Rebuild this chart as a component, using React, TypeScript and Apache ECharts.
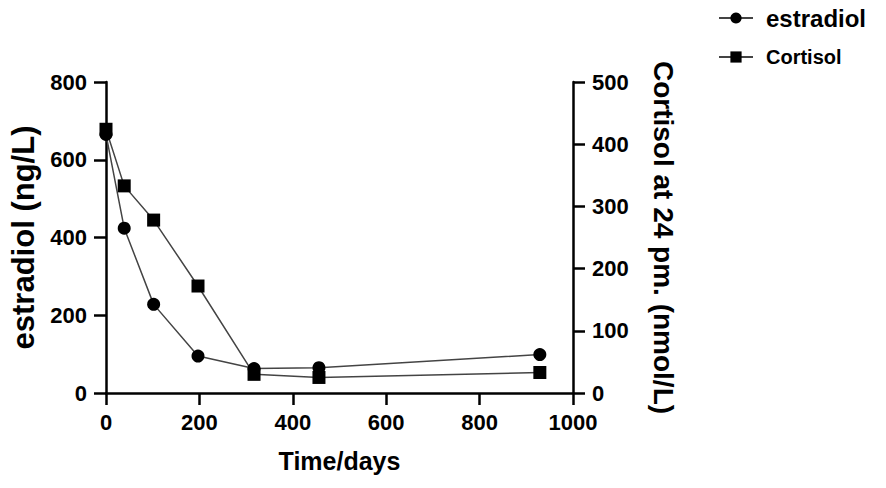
import React, { useEffect, useRef } from "react";
import * as echarts from "echarts";

const days = [0, 39, 102, 197, 317, 456, 929];
const estradiol = [665, 424, 228, 95, 63, 65, 99];
const cortisol = [424, 333, 278, 172, 30, 25, 33];
const seriesNames = ["estradiol", "Cortisol"];

const FONT = '"Liberation Sans", Arial, Helvetica, sans-serif';

export default function App() {
  const ref = useRef<HTMLDivElement>(null);
  useEffect(() => {
    if (!ref.current) return;
    const chart = echarts.init(ref.current, undefined, { renderer: "svg" });
    const axisLine = { show: true, lineStyle: { color: "#000", width: 2.5 } };
    const axisTick = { show: true, inside: false, length: 12, lineStyle: { color: "#000", width: 2.5 } };
    const labelStyle = {
      color: "#000",
      fontFamily: FONT,
      fontWeight: "bold" as const,
      fontSize: 22,
      formatter: (v: number) => String(v),
    };
    chart.setOption({
      animation: false,
      backgroundColor: "#fff",
      grid: { left: 106, right: 313, top: 82, bottom: 95, containLabel: false },
      legend: [
        {
          data: [seriesNames[0]],
          left: 713,
          top: 1,
          itemWidth: 34,
          itemHeight: 14,
          textStyle: { color: "#000", fontFamily: FONT, fontWeight: "bold", fontSize: 24, padding: [0, 0, 0, 8] },
        },
        {
          data: [seriesNames[1]],
          left: 713,
          top: 42,
          itemWidth: 34,
          itemHeight: 14,
          textStyle: { color: "#000", fontFamily: FONT, fontWeight: "bold", fontSize: 20, padding: [0, 0, 0, 8] },
        },
      ],
      xAxis: {
        type: "value",
        min: 0,
        max: 1000,
        interval: 200,
        name: "Time/days",
        nameLocation: "middle",
        nameGap: 55,
        nameTextStyle: { color: "#000", fontFamily: FONT, fontWeight: "bold", fontSize: 25 },
        axisLine,
        axisTick,
        splitLine: { show: false },
        axisLabel: { ...labelStyle, margin: 18 },
      },
      yAxis: [
        {
          type: "value",
          min: 0,
          max: 800,
          interval: 200,
          position: "left",
          name: "estradiol (ng/L)",
          nameLocation: "middle",
          nameGap: 66,
          nameRotate: 90,
          nameTextStyle: { color: "#000", fontFamily: FONT, fontWeight: "bold", fontSize: 31 },
          axisLine,
          axisTick,
          splitLine: { show: false },
          axisLabel: { ...labelStyle, margin: 19 },
        },
        {
          type: "value",
          min: 0,
          max: 500,
          interval: 100,
          position: "right",
          name: "Cortisol at 24 pm. (nmol/L)",
          nameLocation: "middle",
          nameGap: 76,
          nameRotate: -90,
          nameTextStyle: { color: "#000", fontFamily: FONT, fontWeight: "bold", fontSize: 28 },
          axisLine,
          axisTick,
          splitLine: { show: false },
          axisLabel: { ...labelStyle, margin: 19 },
        },
      ],
      series: [
        {
          name: seriesNames[1],
          type: "line",
          yAxisIndex: 1,
          data: days.map((d, i) => [d, cortisol[i]]),
          symbol: "rect",
          symbolSize: 13,
          lineStyle: { color: "#444", width: 1.5 },
          itemStyle: { color: "#000" },
        },
        {
          name: seriesNames[0],
          type: "line",
          yAxisIndex: 0,
          data: days.map((d, i) => [d, estradiol[i]]),
          symbol: "circle",
          symbolSize: 13,
          lineStyle: { color: "#444", width: 1.5 },
          itemStyle: { color: "#000" },
        },
      ],
    });
    return () => chart.dispose();
  }, []);
  return (
    <div
      ref={ref}
      style={{ position: "fixed", left: 0, top: 0, width: 886, height: 488, background: "#fff" }}
    />
  );
}
